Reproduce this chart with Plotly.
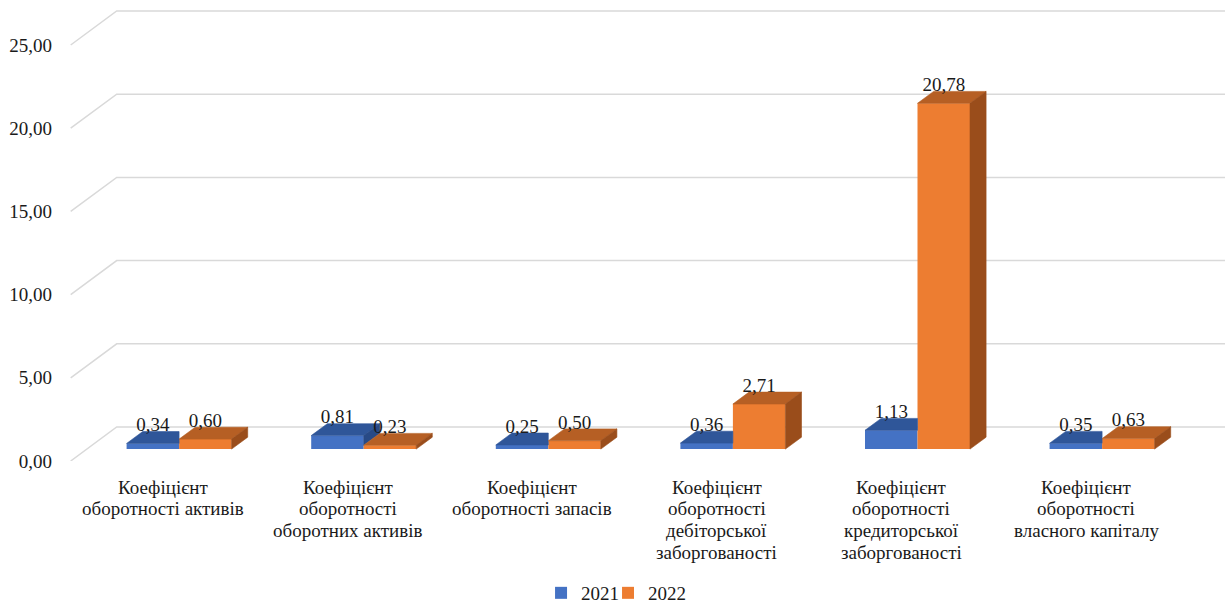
import plotly.graph_objects as go

# ---- data -------------------------------------------------------------
categories = [
    "Коефіцієнт\nоборотності активів",
    "Коефіцієнт\nоборотності\nоборотних активів",
    "Коефіцієнт\nоборотності запасів",
    "Коефіцієнт\nоборотності\nдебіторської\nзаборгованості",
    "Коефіцієнт\nоборотності\nкредиторської\nзаборгованості",
    "Коефіцієнт\nоборотності\nвласного капіталу",
]
series_names = ["2021", "2022"]
values_2021 = [0.34, 0.81, 0.25, 0.36, 1.13, 0.35]
values_2022 = [0.60, 0.23, 0.50, 2.71, 20.78, 0.63]
y_tick_values = [0, 5, 10, 15, 20, 25]

# ---- styling ----------------------------------------------------------
FONT = "Liberation Serif"
FONT_SIZE = 19
TEXT_COLOR = "#1a1a1a"
GRID_COLOR = "#d9d9d9"

FRONT = ["#4472c4", "#ed7d31"]
TOP = ["#2f5699", "#b65f24"]
SIDE = ["#284a86", "#9a4d1b"]

# oblique projection of the 3-D box (in axis units)
FLOOR_DX, FLOOR_DY = 0.2492, 2.043      # full depth of the floor / back wall
FRONT_FRAC = 0.35                       # depth at which the bar fronts sit
DEPTH_FRAC = 0.35                       # depth of each bar
BAR_W = 0.2844                          # width of one bar (category = 1)
LABEL_GAP = 1.02                        # data label above the bar front

fdx, fdy = FLOOR_DX * FRONT_FRAC, FLOOR_DY * FRONT_FRAC
ddx, ddy = FLOOR_DX * DEPTH_FRAC, FLOOR_DY * DEPTH_FRAC

X_RANGE = [-0.5471, 5.7530]
Y_RANGE = [0, 27.704]


def fmt(v):
    return f"{v:.2f}".replace(".", ",")


def font():
    return dict(family=FONT, size=FONT_SIZE, color=TEXT_COLOR)


series = [values_2021, values_2022]
offsets = [-BAR_W, 0.0]
legend_ids = ["legend", "legend2"]
n = len(categories)

fig = go.Figure()

# front faces of the bars
for s, vals in enumerate(series):
    fig.add_trace(go.Bar(
        x=[i + fdx for i in range(n)],
        y=vals,
        base=fdy,
        width=BAR_W,
        offset=offsets[s],
        name=series_names[s],
        legend=legend_ids[s],
        marker=dict(color=FRONT[s], line=dict(width=0)),
        hoverinfo="skip",
    ))

# top and side faces
for s, vals in enumerate(series):
    other = series[1 - s]
    top_x, top_y, side_x, side_y = [], [], [], []
    for i, v in enumerate(vals):
        xl = i + fdx + offsets[s]
        xr = xl + BAR_W
        h = fdy + v
        if s == 0 and v < other[i]:
            px = [xl, xr, xr, xl + ddx, xl]
        else:
            px = [xl, xr, xr + ddx, xl + ddx, xl]
        py = [h, h, h + ddy, h + ddy, h]
        top_x += px + [None]
        top_y += py + [None]
        if s == 1:
            lo = fdy
        elif v > other[i]:
            lo = fdy + other[i]
        else:
            continue
        side_x += [xr, xr, xr + ddx, xr + ddx, xr, None]
        side_y += [lo, h, h + ddy, lo + ddy, lo, None]
    for xs, ys, col in ((top_x, top_y, TOP[s]), (side_x, side_y, SIDE[s])):
        if xs:
            fig.add_trace(go.Scatter(
                x=xs, y=ys, mode="lines", fill="toself", fillcolor=col,
                line=dict(color=col, width=0.6), showlegend=False,
                hoverinfo="skip",
            ))

# data labels
for s, vals in enumerate(series):
    fig.add_trace(go.Scatter(
        x=[i + fdx + offsets[s] + BAR_W / 2 for i in range(n)],
        y=[fdy + v + LABEL_GAP for v in vals],
        mode="text",
        text=[fmt(v) for v in vals],
        textposition="middle center",
        textfont=font(),
        showlegend=False,
        hoverinfo="skip",
    ))

# gridlines: slanted along the side wall, then across the back wall
shapes = []
for t in y_tick_values:
    x0, y0 = -0.5, t
    x1, y1 = -0.5 + FLOOR_DX, t + FLOOR_DY
    x2 = X_RANGE[1] + 0.1
    shapes.append(dict(
        type="path", xref="x", yref="y", layer="below",
        path=f"M{x0},{y0} L{x1},{y1} L{x2},{y1}",
        line=dict(color=GRID_COLOR, width=1.5),
    ))

# category labels, one annotation per line
annotations = []
for i, cat in enumerate(categories):
    for k, line in enumerate(cat.split("\n")):
        annotations.append(dict(
            x=i, y=0, xref="x", yref="y",
            text=line, showarrow=False,
            yanchor="middle", xanchor="center",
            yshift=-26 - 21.7 * k,
            font=font(),
        ))

legend_style = dict(orientation="h", xanchor="left",
                    y=-0.2863, yanchor="middle",
                    font=font(), itemwidth=30, bgcolor="rgba(0,0,0,0)")

fig.update_layout(
    width=1225,
    height=603,
    margin=dict(l=62, r=0, t=0, b=142, autoexpand=False),
    paper_bgcolor="white",
    plot_bgcolor="white",
    barmode="overlay",
    shapes=shapes,
    annotations=annotations,
    font=font(),
    xaxis=dict(range=X_RANGE, showgrid=False, zeroline=False,
               showline=False, showticklabels=False, ticks=""),
    yaxis=dict(range=Y_RANGE, showgrid=False, zeroline=False,
               showline=False, ticks="",
               tickvals=y_tick_values,
               ticktext=[fmt(t) for t in y_tick_values],
               tickfont=font(),
               ticklabelstandoff=9),
    legend=dict(x=0.4119, **legend_style),
    legend2=dict(x=0.4695, **legend_style),
    showlegend=True,
)

fig.write_html("out.html")
